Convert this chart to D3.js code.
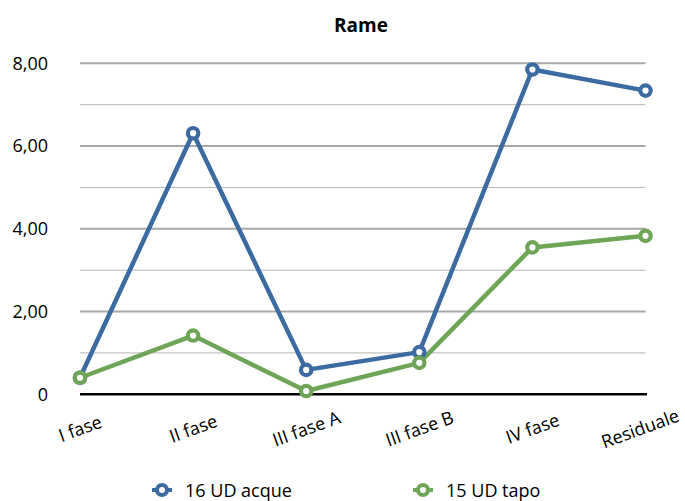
<!DOCTYPE html>
<html>
<head>
<meta charset="utf-8">
<script src="https://cdn.jsdelivr.net/npm/d3@7"></script>
<style>
  html, body { margin: 0; padding: 0; background: #fff; }
  svg { display: block; font-family: "Open Sans", sans-serif; }
</style>
</head>
<body>
<svg id="chart" width="685" height="501"></svg>
<script>
// Copper ("Rame") concentrations per processing phase
const categories = ["I fase", "II fase", "III fase A", "III fase B", "IV fase", "Residuale"];
const acque = [0.40, 6.31, 0.59, 1.02, 7.85, 7.34];
const tapo = [0.40, 1.42, 0.08, 0.76, 3.55, 3.83];
const seriesNames = ["16 UD acque", "15 UD tapo"];
const majorTicks = [0, 2, 4, 6, 8];
const minorTicks = [1, 3, 5, 7];

const colors = ["#3C6BA2", "#6FA556"];
const series = [
  { name: seriesNames[0], values: acque, color: colors[0] },
  { name: seriesNames[1], values: tapo, color: colors[1] }
];

const svg = d3.select("#chart");
const x = d3.scalePoint().domain(categories).range([80, 645.5]).padding(0);
const y = d3.scaleLinear().domain([0, 8]).range([394.3, 63.3]);

const fmt = v => v === 0 ? "0" : d3.format(".2f")(v).replace(".", ",");

// gridlines
svg.append("g").selectAll("line.minor").data(minorTicks).join("line")
  .attr("x1", 80).attr("x2", 645.5)
  .attr("y1", d => y(d)).attr("y2", d => y(d))
  .attr("stroke", "#b4b4b4").attr("stroke-width", 1);
svg.append("g").selectAll("line.major").data(majorTicks.filter(d => d > 0)).join("line")
  .attr("x1", 80).attr("x2", 645.5)
  .attr("y1", d => y(d)).attr("y2", d => y(d))
  .attr("stroke", "#a8a8a8").attr("stroke-width", 2);

// y axis labels
const yAxis = d3.axisLeft(y).tickValues(majorTicks).tickFormat(fmt).tickSize(0).tickPadding(0);
const gy = svg.append("g").attr("transform", "translate(48,0)").call(yAxis);
gy.select(".domain").remove();
gy.selectAll("text").attr("font-size", 18).attr("fill", "#000")
  .attr("font-family", "'Open Sans', sans-serif");

// baseline
svg.append("line")
  .attr("x1", 80).attr("x2", 647)
  .attr("y1", y(0)).attr("y2", y(0))
  .attr("stroke", "#000").attr("stroke-width", 2.5);

// x labels (rotated)
svg.append("g").selectAll("text").data(categories).join("text")
  .attr("transform", d => `translate(${Math.min(x(d), 640)},428) rotate(-20)`)
  .attr("text-anchor", "middle")
  .attr("dominant-baseline", "central")
  .attr("font-size", 18)
  .attr("fill", "#000")
  .text(d => d);

// lines + markers
const line = d3.line().x((d, i) => x(categories[i])).y(d => y(d));
series.forEach(s => {
  svg.append("path").datum(s.values)
    .attr("d", line)
    .attr("fill", "none")
    .attr("stroke", s.color)
    .attr("stroke-width", 4.5)
    .attr("stroke-linejoin", "round");
});
series.forEach(s => {
  svg.append("g").selectAll("circle").data(s.values).join("circle")
    .attr("cx", (d, i) => x(categories[i]))
    .attr("cy", d => y(d))
    .attr("r", 5.2)
    .attr("fill", "#fff")
    .attr("stroke", s.color)
    .attr("stroke-width", 4.2);
});

// title
svg.append("text")
  .attr("x", 361).attr("y", 32)
  .attr("text-anchor", "middle")
  .attr("font-size", 19)
  .attr("font-weight", "bold")
  .attr("fill", "#000")
  .text("Rame");

// legend
const legendX = [162, 423];
const lg = svg.append("g").selectAll("g").data(series).join("g")
  .attr("transform", (d, i) => `translate(${legendX[i]},490)`);
lg.append("line")
  .attr("x1", -10).attr("x2", 10).attr("y1", 0).attr("y2", 0)
  .attr("stroke", d => d.color).attr("stroke-width", 4);
lg.append("circle")
  .attr("r", 5).attr("fill", "#fff")
  .attr("stroke", d => d.color).attr("stroke-width", 4);
lg.append("text")
  .attr("x", 23).attr("y", 0)
  .attr("dominant-baseline", "central")
  .attr("font-size", 18)
  .attr("fill", "#000")
  .text(d => d.name);
</script>
</body>
</html>
